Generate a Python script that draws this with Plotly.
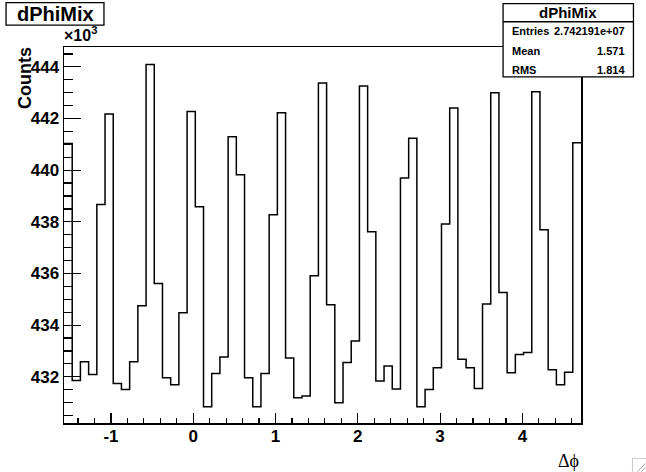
import numpy as np
import plotly.graph_objects as go

# ---- data ----
hist_name = "dPhiMix"
x_min = -np.pi / 2
x_max = 3 * np.pi / 2
n_bins = 63
counts_k = [
    441.03, 431.86, 432.58, 432.09, 438.67, 442.18, 431.74, 431.51, 432.58, 434.75,
    444.09, 435.61, 431.96, 431.69, 434.48, 442.27, 438.58, 430.84, 432.13, 432.77,
    441.29, 439.82, 431.96, 430.84, 432.13, 438.27, 442.22, 432.73, 431.19, 431.26,
    435.91, 443.38, 434.79, 430.99, 432.55, 433.39, 443.26, 437.62, 431.84, 432.42,
    431.53, 439.70, 441.24, 430.84, 431.51, 432.35, 437.92, 442.41, 432.68, 432.35,
    431.55, 434.82, 443.00, 435.26, 432.16, 432.86, 432.94, 443.04, 437.69, 432.27,
    431.69, 432.18, 441.06,
]
counts = [v * 1000 for v in counts_k]
y_tickvals = [432000, 434000, 436000, 438000, 440000, 442000, 444000]
y_ticktext = ["432", "434", "436", "438", "440", "442", "444"]
x_tickvals = [-1, 0, 1, 2, 3, 4]
x_ticktext = ["-1", "0", "1", "2", "3", "4"]
stats_labels = ["Entries", "Mean", "RMS"]
stats_values = ["2.742191e+07", "1.571", "1.814"]
y_range = [430210, 444770]

edges = np.linspace(x_min, x_max, n_bins + 1)
step_y = counts + [counts[-1]]

W, H = 646, 472
L, R, T, B = 64, 581.5, 47, 423.5


def px(x):
    return (x - L) / (R - L)


def py(y):
    return (B - y) / (B - T)


fig = go.Figure()
fig.add_trace(go.Scatter(
    x=edges, y=step_y, mode="lines", line=dict(color="black", width=1.5, shape="hv"),
    hoverinfo="skip", showlegend=False,
))

FONT = "Liberation Sans"
fig.update_layout(
    width=W, height=H,
    margin=dict(l=L, r=W - R, t=T, b=H - B, pad=0),
    paper_bgcolor="white", plot_bgcolor="white",
    showlegend=False,
    font=dict(family=FONT, color="black"),
    xaxis=dict(
        range=[x_min, x_max], showgrid=False, zeroline=False,
        showline=True, linecolor="black", linewidth=1.5, mirror=True,
        ticks="inside", ticklen=10, tickwidth=1.2, tickcolor="black",
        tickvals=x_tickvals, ticktext=x_ticktext, ticklabelstandoff=-3,
        tickfont=dict(family=FONT, size=17, color="black", weight="bold"),
        minor=dict(dtick=0.2, tick0=0, ticks="inside", ticklen=5, tickwidth=1.2, tickcolor="black", showgrid=False),
    ),
    yaxis=dict(
        range=y_range, showgrid=False, zeroline=False,
        showline=True, linecolor="black", linewidth=1.5, mirror=True,
        ticks="inside", ticklen=17, tickwidth=1.2, tickcolor="black",
        tickvals=y_tickvals, ticktext=y_ticktext, ticklabelstandoff=0,
        tickfont=dict(family=FONT, size=17, color="black", weight="bold"),
        minor=dict(dtick=500, tick0=0, ticks="inside", ticklen=9, tickwidth=1.2, tickcolor="black", showgrid=False),
    ),
)

shapes = []
# title box
shapes.append(dict(type="rect", xref="paper", yref="paper",
                   x0=px(6), x1=px(104), y0=py(25), y1=py(2.5),
                   line=dict(color="black", width=1.3), fillcolor="white", layer="above"))
# stats box
shapes.append(dict(type="rect", xref="paper", yref="paper",
                   x0=px(503.5), x1=px(634), y0=py(77), y1=py(3.5),
                   line=dict(color="black", width=1.3), fillcolor="white", layer="above"))
shapes.append(dict(type="line", xref="paper", yref="paper",
                   x0=px(503.5), x1=px(634), y0=py(21.7), y1=py(21.7),
                   line=dict(color="black", width=1.3), layer="above"))
# window resize grip in the corner
shapes.append(dict(type="rect", xref="paper", yref="paper",
                   x0=px(633), x1=px(647), y0=py(473), y1=py(459),
                   line=dict(color="#c8c8c8", width=1), fillcolor="white", layer="above"))
for d in (4, 8):
    shapes.append(dict(type="line", xref="paper", yref="paper",
                       x0=px(646 - d), x1=px(646), y0=py(472), y1=py(472 - d),
                       line=dict(color="#a0a0a0", width=1), layer="above"))
fig.update_layout(shapes=shapes)

ann = []
ann.append(dict(text=hist_name, xref="paper", yref="paper", x=px(55), y=py(14),
                xanchor="center", yanchor="middle", showarrow=False,
                font=dict(family=FONT, size=20, color="black", weight="bold")))
ann.append(dict(text=hist_name, xref="paper", yref="paper", x=px(568.5), y=py(12.5),
                xanchor="center", yanchor="middle", showarrow=False,
                font=dict(family=FONT, size=15, color="black", weight="bold")))
row_y = [31, 51, 70.5]
for lab, val, yy in zip(stats_labels, stats_values, row_y):
    ann.append(dict(text=lab, xref="paper", yref="paper", x=px(510), y=py(yy),
                    xanchor="left", yanchor="middle", showarrow=False,
                    font=dict(family=FONT, size=11, color="black", weight="bold")))
    ann.append(dict(text=val, xref="paper", yref="paper", x=px(627.5), y=py(yy),
                    xanchor="right", yanchor="middle", showarrow=False,
                    font=dict(family=FONT, size=11, color="black", weight="bold")))
ann.append(dict(text="×10<sup>3</sup>", xref="paper", yref="paper", x=px(62), y=py(46),
                xanchor="left", yanchor="bottom", showarrow=False,
                font=dict(family=FONT, size=16, color="black", weight="bold")))
ann.append(dict(text="Counts", xref="paper", yref="paper", x=px(25), y=py(78),
                xanchor="center", yanchor="middle", showarrow=False, textangle=-90,
                font=dict(family=FONT, size=18, color="black", weight="bold")))
ann.append(dict(text="Δϕ", xref="paper", yref="paper", x=px(582), y=py(462),
                xanchor="right", yanchor="middle", showarrow=False,
                font=dict(family="Liberation Serif", size=18, color="black")))
fig.update_layout(annotations=ann)

fig.write_html("out.html", config={"displayModeBar": False, "staticPlot": True},
               post_script="document.body.style.margin='0';document.body.style.overflow='hidden';")
